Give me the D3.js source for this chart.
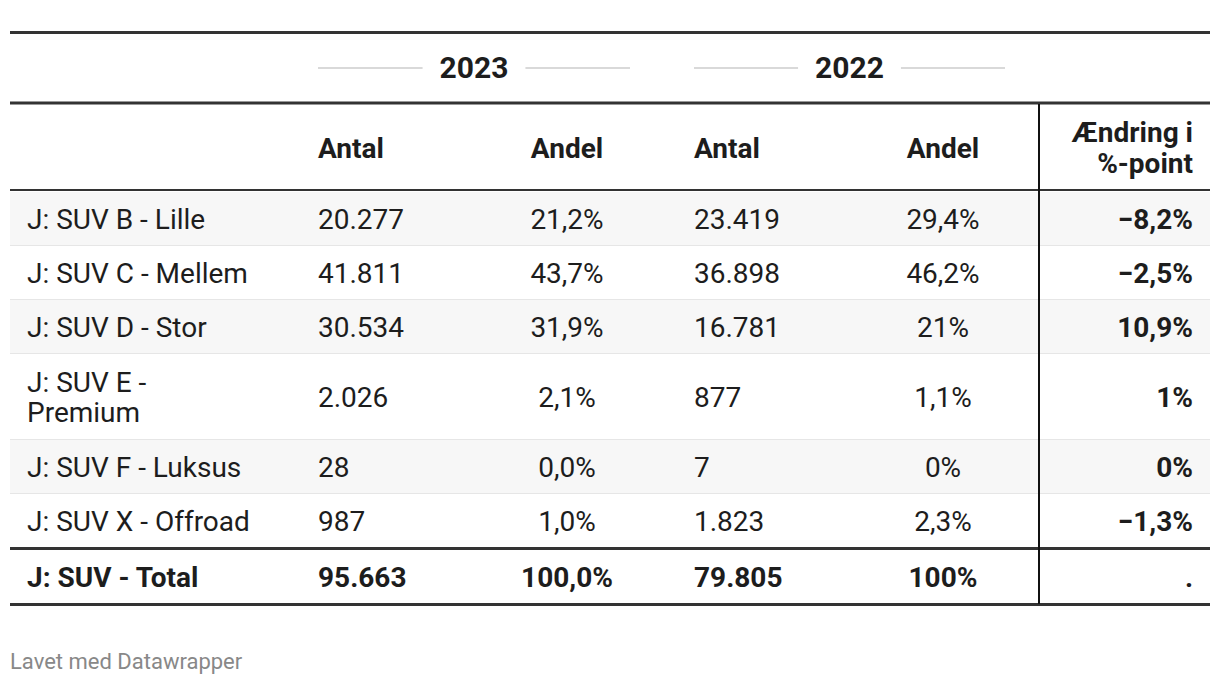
<!DOCTYPE html>
<html><head><meta charset="utf-8">
<script src="https://cdn.jsdelivr.net/npm/d3@7"></script>
<style>
html,body{margin:0;padding:0;background:#fff;}
svg{display:block;font-family:Roboto,"Noto Sans",sans-serif;}
</style></head>
<body><svg id="chart" width="1220" height="684"></svg>
<script>
// ---- data ----
const categories = ["J: SUV B - Lille","J: SUV C - Mellem","J: SUV D - Stor","J: SUV E - Premium","J: SUV F - Luksus","J: SUV X - Offroad"];
const antal2023 = [20277, 41811, 30534, 2026, 28, 987];
const andel2023 = [21.2, 43.7, 31.9, 2.1, 0.0, 1.0];
const antal2022 = [23419, 36898, 16781, 877, 7, 1823];
const andel2022 = [29.4, 46.2, 21, 1.1, 0, 2.3];
const change = [-8.2, -2.5, 10.9, 1, 0, -1.3];
const totalLabel = "J: SUV - Total";
const total2023 = 95663, totalAndel2023 = 100.0, total2022 = 79805, totalAndel2022 = 100, totalChange = ".";
const years = ["2023","2022"];
const colHeaders = ["", "Antal", "Andel", "Antal", "Andel", "Ændring i\n%-point"];
const footer = "Lavet med Datawrapper";

// ---- formatting ----
const loc = d3.formatLocale({decimal:",", thousands:".", grouping:[3], currency:["","kr"], minus:"\u2212"});
const fInt = loc.format(",d");
const f1 = loc.format(".1f");
const fPct1 = v => f1(v) + "%";
const fPctT = v => loc.format(".1~f")(v) + "%";

// ---- layout ----
const svg = d3.select("#chart");
const L = 10, R = 1210;
const cols = [
  {anchor:"start", tx:27},
  {anchor:"start", tx:318},
  {anchor:"middle", tx:567},
  {anchor:"start", tx:694},
  {anchor:"middle", tx:943},
  {anchor:"end", tx:1193}
];
const ink = "#1d1d1d";
const fs = 28;

function hline(y, w, c){ svg.append("line").attr("x1",L).attr("x2",R).attr("y1",y).attr("y2",y).attr("stroke",c).attr("stroke-width",w); }

// year header row
const yearY = 67;
const spans = [{x0:318,x1:630},{x0:694,x1:1005}];
years.forEach((yr,i)=>{
  const s = spans[i], cx = (s.x0+s.x1)/2;
  const t = svg.append("text").attr("x",cx).attr("y",yearY).attr("text-anchor","middle").attr("dominant-baseline","central")
    .attr("font-size",30).attr("font-weight",700).attr("fill",ink).text(yr);
  const w = t.node().getComputedTextLength();
  svg.append("line").attr("x1",s.x0).attr("x2",cx-w/2-17).attr("y1",yearY+1).attr("y2",yearY+1).attr("stroke","#ccc").attr("stroke-width",1.5);
  svg.append("line").attr("x1",cx+w/2+17).attr("x2",s.x1).attr("y1",yearY+1).attr("y2",yearY+1).attr("stroke","#ccc").attr("stroke-width",1.5);
});

// column header row
const hTop = 104, hBot = 190;
colHeaders.forEach((h,i)=>{
  if(!h) return;
  const lines = h.split("\n");
  const cy = (hTop+hBot)/2 + 1;
  const lh = 31;
  const t = svg.append("text").attr("text-anchor",cols[i].anchor).attr("font-size",fs).attr("font-weight",700).attr("fill",ink);
  lines.forEach((ln,k)=>{
    t.append("tspan").attr("x",cols[i].tx).attr("y", cy + (k-(lines.length-1)/2)*lh).attr("dominant-baseline","central").text(ln);
  });
});

// body rows
const rows = categories.map((c,i)=>({
  cells:[c, fInt(antal2023[i]), fPct1(andel2023[i]), fInt(antal2022[i]), fPctT(andel2022[i]), fPctT(change[i])]
}));
const rowH = 53, lineH = 30;
let y = 192;
const rowG = svg.append("g");
const rowBounds = [];
rows.forEach((r,i)=>{
  const tmp = svg.append("text").attr("font-size",fs).text(r.cells[0]);
  let labelLines = [r.cells[0]];
  if (tmp.node().getComputedTextLength() > 230) {
    const words = r.cells[0].split(" ");
    labelLines = [words.slice(0,-1).join(" "), words[words.length-1]];
  }
  tmp.remove();
  const h = labelLines.length > 1 ? 85 : rowH;
  rowBounds.push({y0:y, y1:y+h, lines:labelLines});
  y += h + 1;
});
rowBounds.forEach((b,i)=>{
  rowG.append("rect").attr("x",L).attr("y",b.y0).attr("width",R-L).attr("height",b.y1-b.y0)
    .attr("fill", i%2===0 ? "#f7f7f7" : "#fff");
  if(i>0) rowG.append("line").attr("x1",L).attr("x2",R).attr("y1",b.y0-0.5).attr("y2",b.y0-0.5).attr("stroke","#e6e6e6").attr("stroke-width",1);
  const cy = (b.y0+b.y1)/2 + 1;
  rows[i].cells.forEach((c,j)=>{
    const t = rowG.append("text").attr("text-anchor",cols[j].anchor).attr("font-size",fs)
      .attr("font-weight", j===5 ? 700 : 400).attr("fill",ink);
    const lines = j===0 ? b.lines : [c];
    lines.forEach((ln,k)=>{
      t.append("tspan").attr("x",cols[j].tx).attr("y",cy+(k-(lines.length-1)/2)*lineH).attr("dominant-baseline","central").text(ln);
    });
  });
});

// total row
const tTop = y + 1, tBot = tTop + 54;
const totCells = [totalLabel, fInt(total2023), fPct1(totalAndel2023), fInt(total2022), fPctT(totalAndel2022), totalChange];
totCells.forEach((c,j)=>{
  svg.append("text").attr("x",cols[j].tx).attr("y",(tTop+tBot)/2+1).attr("dominant-baseline","central")
    .attr("text-anchor",cols[j].anchor).attr("font-size",fs).attr("font-weight",700).attr("fill",ink).text(c);
});

// borders
hline(32.5, 3, "#333");
hline(103, 3, "#333");
hline(190, 2, "#333");
hline(y+0.5, 3, "#333");
hline(tBot+1.5, 3, "#333");
svg.append("line").attr("x1",1039).attr("x2",1039).attr("y1",104).attr("y2",tBot+1).attr("stroke","#111").attr("stroke-width",2);

// footer
svg.append("text").attr("x",10).attr("y",661).attr("dominant-baseline","central").attr("font-size",22).attr("fill","#888").text(footer);
</script></body></html>
